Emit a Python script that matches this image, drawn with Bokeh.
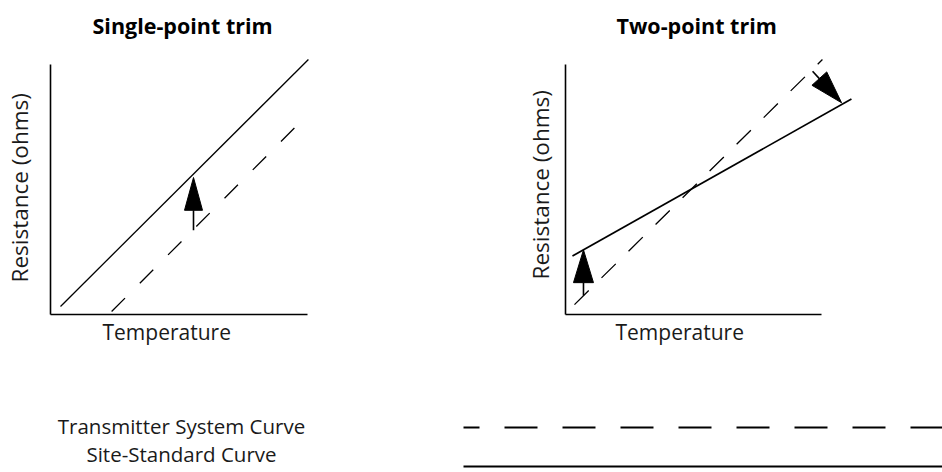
from math import hypot

from bokeh.plotting import figure
from bokeh.layouts import column, row
from bokeh.models import Range1d, FixedTicker, Title
from bokeh.core.properties import value
from bokeh.embed import file_html
from bokeh.resources import INLINE

FONT = "Open Sans"

# ---------------- data (arbitrary units: Temperature 0-100, Resistance 0-100) -------------
panel_titles = ["Single-point trim", "Two-point trim"]
x_label = "Temperature"
y_label = "Resistance (ohms)"

# Single-point trim
sp_std_temp = [3.85, 99.2]         # site-standard curve (solid)
sp_std_res = [3.0, 95.5]
sp_tx_temp = [23.5, 98.8]          # transmitter system curve (dashed)
sp_tx_res = [1.1, 74.7]
sp_arrow_temp_from = [55.0]
sp_arrow_res_from = [31.6]
sp_arrow_temp_to = [55.0]
sp_arrow_res_to = [51.3]
sp_axis_temp_max = 98.8
sp_axis_res_max = 93.7

# Two-point trim
tp_std_temp = [2.4, 98.6]
tp_std_res = [21.9, 80.7]
tp_tx_temp = [3.1, 88.6]
tp_tx_res = [3.7, 95.5]
tp_arrow_temp_from = [6.2, 85.2]
tp_arrow_res_from = [7.1, 91.1]
tp_arrow_temp_to = [6.2, 95.2]
tp_arrow_res_to = [24.2, 79.3]
tp_axis_temp_max = 88.3
tp_axis_res_max = 93.7

legend_labels = ["Transmitter System Curve", "Site-Standard Curve"]
legend_dashes = ["33 25", "solid"]


def arrow_heads(p, xf, yf, xt, yt, sx, sy, head_len=33, head_w=19):
    hx, hy, bx, by = [], [], [], []
    for x0, y0, x1, y1 in zip(xf, yf, xt, yt):
        dx, dy = (x1 - x0) * sx, (y1 - y0) * sy
        n = hypot(dx, dy)
        ux, uy = dx / n, dy / n
        cx, cy = x1 * sx - head_len * ux, y1 * sy - head_len * uy
        px, py = -uy, ux
        hx.append([x1, (cx + px * head_w / 2) / sx, (cx - px * head_w / 2) / sx])
        hy.append([y1, (cy + py * head_w / 2) / sy, (cy - py * head_w / 2) / sy])
        bx.append(cx / sx)
        by.append(cy / sy)
    p.segment(x0=xf, y0=yf, x1=bx, y1=by, line_color="black", line_width=1.6)
    p.patches(xs=hx, ys=hy, fill_color="black", line_color="black", line_width=1)


def make_panel(title, width, height, left, right, top, bottom, tmax, rmax,
               title_offset, ylab_offset, ylab_standoff, ygap, xlab_offset):
    p = figure(width=width, height=height, output_backend="svg", toolbar_location=None,
               x_range=Range1d(0, 100), y_range=Range1d(0, 100),
               min_border_left=left, min_border_right=right,
               min_border_top=top, min_border_bottom=bottom)
    p.grid.visible = False
    p.outline_line_color = None
    p.title.text = title
    p.title.align = "left"
    p.title.text_font = FONT
    p.title.text_font_size = "21.5px"
    p.title.text_font_style = "bold"
    p.title.text_color = "black"
    p.title.offset = title_offset
    p.title.standoff = 16
    p.xaxis.bounds = (0, tmax)
    p.yaxis.bounds = (0, rmax)
    for ax in (p.xaxis[0], p.yaxis[0]):
        ax.ticker = FixedTicker(ticks=[])
        ax.major_tick_out = 0
        ax.major_tick_in = 0
        ax.minor_tick_out = 0
        ax.minor_tick_in = 0
        ax.major_tick_line_color = None
        ax.minor_tick_line_color = None
        ax.major_label_standoff = 0
        ax.axis_line_color = "black"
        ax.axis_line_width = 1.6
    if ygap:
        # one blank tick label: leaves a gap between the axis line and the axis title
        p.yaxis[0].ticker = FixedTicker(ticks=[50])
        p.yaxis[0].major_label_overrides = {50: " "}
        p.yaxis[0].major_label_text_font = FONT
        p.yaxis[0].major_label_text_font_size = "20px"
        p.yaxis[0].major_label_standoff = ygap
    # axis labels as titles beside the axes, so that they can be offset along them
    p.add_layout(Title(text=x_label, align="left", offset=xlab_offset,
                       standoff=2, text_font=FONT, text_font_size="21px",
                       text_font_style="normal", text_color="#1a1a1a"), "below")
    p.add_layout(Title(text=y_label, align="left", offset=ylab_offset,
                       standoff=ylab_standoff, text_font=FONT, text_font_size="22.5px",
                       text_font_style="normal", text_color="#1a1a1a"), "left")
    return p


ROW_H, TOP, BOTTOM = 346, 46, 31

# ---- panel 1 ----
W1, L1, R1 = 470, 50, 160
p1 = make_panel(panel_titles[0], W1, ROW_H, L1, R1, TOP, BOTTOM,
                sp_axis_temp_max, sp_axis_res_max, 42, 32, 0, 8, 52)
sx1 = (W1 - L1 - R1) / 100
sy1 = (ROW_H - TOP - BOTTOM) / 100
p1.line(sp_std_temp, sp_std_res, line_color="black", line_width=1.3)
p1.line(sp_tx_temp, sp_tx_res, line_color="black", line_width=1.3, line_dash="19 21")
arrow_heads(p1, sp_arrow_temp_from, sp_arrow_res_from, sp_arrow_temp_to, sp_arrow_res_to,
            sx1, sy1, head_len=33, head_w=18)

# ---- panel 2 ----
W2, L2, R2 = 472, 95, 87
p2 = make_panel(panel_titles[1], W2, ROW_H, L2, R2, TOP, BOTTOM,
                tp_axis_temp_max, tp_axis_res_max, 51, 35, 20, 0, 50)
sx2 = (W2 - L2 - R2) / 100
sy2 = (ROW_H - TOP - BOTTOM) / 100
p2.line(tp_std_temp, tp_std_res, line_color="black", line_width=1.7)
p2.line(tp_tx_temp, tp_tx_res, line_color="black", line_width=1.3, line_dash="20 18")
arrow_heads(p2, tp_arrow_temp_from, tp_arrow_res_from, tp_arrow_temp_to, tp_arrow_res_to,
            sx2, sy2, head_len=33, head_w=20)

# ---- legend strip ----
W3, H3 = 942, 472 - ROW_H
p3 = figure(width=W3, height=H3, output_backend="svg", toolbar_location=None,
            x_range=Range1d(0, W3), y_range=Range1d(H3, 0),
            x_axis_type=None, y_axis_type=None, min_border=0)
p3.grid.visible = False
p3.outline_line_color = None
row_y = [79, 107]
line_y = [81, 120]
p3.text(x=[181, 181], y=row_y, text=legend_labels, text_font=value(FONT),
        text_align="center", text_baseline="middle", text_font_size="20.5px",
        text_color="#1a1a1a")
for yy, dash in zip(line_y, legend_dashes):
    p3.line([463, W3], [yy, yy], line_color="black", line_width=2.2,
            line_dash=dash, line_dash_offset=17 if dash != "solid" else 0)

layout = column(row(p1, p2), p3)
open("out.html", "w").write(file_html(layout, INLINE))
